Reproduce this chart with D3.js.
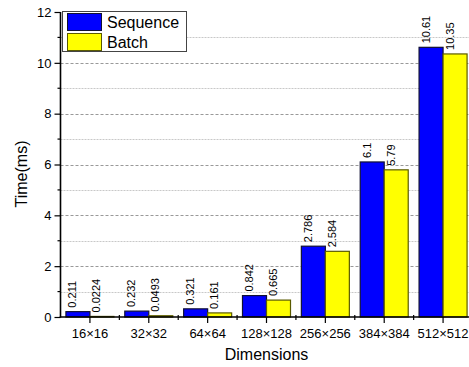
<!DOCTYPE html>
<html><head><meta charset="utf-8">
<script src="https://cdn.jsdelivr.net/npm/d3@7"></script>
<style>
html,body{margin:0;padding:0;background:#fff;}
svg{display:block;font-family:Arial,"Liberation Sans",sans-serif;}
</style></head>
<body>
<svg id="c" width="469" height="367"></svg>
<script>
const categories = ["16\u00d716","32\u00d732","64\u00d764","128\u00d7128","256\u00d7256","384\u00d7384","512\u00d7512"];
const seriesNames = ["Sequence","Batch"];
const sequence = [0.211, 0.232, 0.321, 0.842, 2.786, 6.1, 10.61];
const batch = [0.0224, 0.0493, 0.161, 0.665, 2.584, 5.79, 10.35];
const majorTicks = [0, 2, 4, 6, 8, 10, 12];
const minorTicks = [1, 3, 5, 7, 9, 11];
const colors = ["#0000ff", "#ffff00"];
const strokes = ["#111133", "#5a5a00"];

const svg = d3.select("#c");
const L = 60.5, R = 472.5, T = 12, B = 317;
const y = d3.scaleLinear().domain([0, 12]).range([B, T]);
const x0 = d3.scaleBand().domain(categories).range([L, R]).padding(0);
const x1 = d3.scaleBand().domain(seriesNames).range([0, x0.bandwidth()]).paddingInner(0).paddingOuter(0.226);

// gridlines
svg.append("g").selectAll("line").data(majorTicks.filter(d => d > 0 && d < 12)).join("line")
  .attr("x1", L).attr("x2", R).attr("y1", d => Math.round(y(d)) + 0.5).attr("y2", d => Math.round(y(d)) + 0.5)
  .attr("stroke", "#999").attr("stroke-width", 1).attr("stroke-dasharray", "3,2");
svg.append("g").selectAll("line").data(minorTicks).join("line")
  .attr("x1", L).attr("x2", R).attr("y1", d => Math.round(y(d)) + 0.5).attr("y2", d => Math.round(y(d)) + 0.5)
  .attr("stroke", "#c8c8c8").attr("stroke-width", 1).attr("stroke-dasharray", "2,1");

// bars
const data = categories.map((c, i) => ({c, vals: [sequence[i], batch[i]]}));
const groups = svg.append("g").selectAll("g").data(data).join("g")
  .attr("transform", d => `translate(${x0(d.c)},0)`);
groups.selectAll("rect").data(d => d.vals.map((v, j) => ({v, j, s: seriesNames[j]}))).join("rect")
  .attr("x", d => x1(d.s)).attr("width", x1.bandwidth())
  .attr("y", d => y(d.v)).attr("height", d => y(0) - y(d.v))
  .attr("fill", d => colors[d.j]).attr("stroke", d => strokes[d.j]).attr("stroke-width", 1.2);
groups.selectAll("text").data(d => d.vals.map((v, j) => ({v, j, s: seriesNames[j]}))).join("text")
  .attr("transform", d => `translate(${x1(d.s) + x1.bandwidth() / 2 - 1.5},${y(d.v) - 4}) rotate(-90)`)
  .attr("font-size", 11).attr("fill", "#000").text(d => String(d.v));

// y axis
const ya = svg.append("g").attr("transform", `translate(${L},0)`)
  .call(d3.axisLeft(y).tickValues(majorTicks).tickSize(6).tickPadding(3).tickFormat(d3.format("d")));
ya.select(".domain").remove();
ya.selectAll("line").attr("stroke", "#000").attr("stroke-width", 1.2);
ya.selectAll("text").attr("font-size", 13).attr("font-family", "Arial,'Liberation Sans',sans-serif").attr("fill", "#000");
svg.append("g").selectAll("line").data(minorTicks).join("line")
  .attr("x1", L - 3).attr("x2", L).attr("y1", d => y(d)).attr("y2", d => y(d))
  .attr("stroke", "#000").attr("stroke-width", 1.2);
svg.append("line").attr("x1", L).attr("x2", L).attr("y1", y(12)).attr("y2", y(0) + 0.5)
  .attr("stroke", "#000").attr("stroke-width", 1.6);

// x axis
const xa = svg.append("g").attr("transform", `translate(0,${B})`)
  .call(d3.axisBottom(x0).tickSize(6).tickPadding(6));
xa.select(".domain").remove();
xa.selectAll("line").attr("stroke", "#000").attr("stroke-width", 1.2);
xa.selectAll("text").attr("font-size", 13).attr("font-family", "Arial,'Liberation Sans',sans-serif").attr("fill", "#000");
svg.append("g").selectAll("line").data(categories.slice(1)).join("line")
  .attr("x1", d => x0(d)).attr("x2", d => x0(d)).attr("y1", B - 2).attr("y2", B + 3)
  .attr("stroke", "#000").attr("stroke-width", 1.2);
svg.append("line").attr("x1", L - 0.8).attr("x2", R).attr("y1", B).attr("y2", B)
  .attr("stroke", "#000").attr("stroke-width", 1.6);

// axis titles
svg.append("text").attr("x", (L + R) / 2).attr("y", 360).attr("text-anchor", "middle")
  .attr("font-size", 16).text("Dimensions");
svg.append("text").attr("transform", `translate(27,174) rotate(-90)`).attr("text-anchor", "middle")
  .attr("font-size", 16).text("Time(ms)");

// legend
const lg = svg.append("g");
lg.append("rect").attr("x", 62.5).attr("y", 11.5).attr("width", 124).attr("height", 40)
  .attr("fill", "#fff").attr("stroke", "#444").attr("stroke-width", 1);
seriesNames.forEach((s, i) => {
  lg.append("rect").attr("x", 67.5).attr("y", 13.5 + i * 20).attr("width", 34).attr("height", 17)
    .attr("fill", colors[i]).attr("stroke", strokes[i]).attr("stroke-width", 1);
  lg.append("text").attr("x", 107).attr("y", 27.5 + i * 20).attr("font-size", 16).text(s);
});
</script>
</body></html>
